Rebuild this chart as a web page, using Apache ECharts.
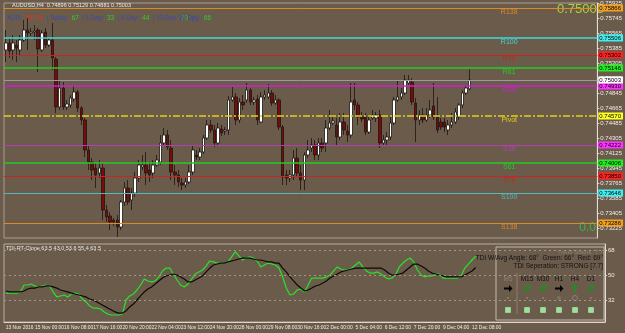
<!DOCTYPE html>
<html>
<head>
<meta charset="utf-8">
<script src="https://cdn.jsdelivr.net/npm/echarts@6/dist/echarts.min.js"></script>
<style>
  html, body { margin: 0; padding: 0; background: #6b5b4b; }
  #chart { width: 625px; height: 333px; }
</style>
</head>
<body>
<div id="chart"></div>
<script>
// AUDUSD H4, 13 Nov - 12 Dec 2016
const timeLabels = ['13 Nov 2016', '15 Nov 00:00', '16 Nov 08:00', '17 Nov 16:00', '20 Nov 20:00', '22 Nov 04:00',
  '23 Nov 12:00', '24 Nov 20:00', '28 Nov 00:00', '29 Nov 08:00', '30 Nov 16:00', '2 Dec 00:00', '5 Dec 04:00',
  '6 Dec 12:00', '7 Dec 20:00', '9 Dec 04:00', '12 Dec 08:00']

const opens = [.75362, .75446, .75362, .75422, .75362, .75482, .75602, .75566, .75578, .75602,
  .75362, .75578, .75422, .75482, .75254, .74678, .74906, .74678, .74702, .74774,
  .74858, .74666, .74522, .74162, .74018, .73946, .73886, .73946, .73442, .7337,
  .73322, .73322, .73238, .73538, .73706, .73562, .73646, .73826, .73958, .73982,
  .73922, .73886, .73982, .74018, .74246, .74342, .74186, .73898, .73862, .73766,
  .73742, .73778, .73898, .74102, .74078, .74138, .74306, .74462, .74402, .74246,
  .74414, .7439, .74402, .74762, .74798, .74522, .74738, .74762, .74882, .74738,
  .74774, .74498, .74798, .74798, .74846, .74726, .74762, .74438, .73862, .73826,
  .73862, .74066, .73886, .73802, .74102, .74186, .74222, .74102, .74246, .74246,
  .74426, .74486, .74462, .74318, .74498, .7439, .74342, .74762, .74702, .74558,
  .74558, .74378, .74546, .74546, .74582, .74246, .74282, .74318, .74486, .74762,
  .74798, .74846, .74966, .74978, .74726, .74522, .74582, .74522, .74582, .7469,
  .74558, .74498, .74498, .74402, .74462, .74498, .74558, .74702, .74846, .74896]
const closes = [.75446, .7535, .75446, .75386, .75482, .75602, .75566, .75578, .7559, .75374,
  .75566, .75422, .75482, .75266, .74678, .74906, .74678, .74714, .74786, .74858,
  .74666, .74522, .74162, .74018, .73922, .73862, .73946, .73442, .73358, .73298,
  .73298, .73238, .73538, .73706, .73538, .73646, .73826, .73982, .73982, .73886,
  .73862, .73982, .74042, .74246, .74342, .74198, .73898, .73862, .73778, .73742,
  .73778, .73898, .74162, .74078, .74138, .74306, .74462, .74402, .74246, .74426,
  .74366, .74402, .74762, .74798, .74522, .74738, .74702, .74882, .74738, .74762,
  .74522, .74798, .74822, .74846, .74726, .74762, .74438, .73838, .73826, .73862,
  .74066, .73886, .73802, .74102, .74162, .74222, .74102, .74246, .74186, .74426,
  .74486, .7451, .74318, .74498, .74402, .74342, .74738, .74702, .74558, .74534,
  .74378, .74522, .74582, .74582, .74246, .74282, .74318, .74486, .74762, .74798,
  .74846, .75002, .75002, .74738, .74522, .74582, .74522, .74582, .74642, .74558,
  .74402, .74438, .74438, .74462, .74498, .74618, .74702, .74846, .74906, .75003]
const lows = [.75218, .75266, .75242, .75218, .75302, .75458, .75362, .7553, .75482, .75098,
  .75338, .75386, .75398, .75122, .74606, .74642, .74642, .74642, .74666, .74738,
  .74618, .74462, .74078, .73922, .73802, .73706, .73826, .73322, .73298, .73202,
  .7325, .73118, .73202, .7349, .73502, .73442, .73598, .73778, .73922, .73742,
  .73778, .73826, .73958, .73982, .7421, .74162, .73802, .73742, .73718, .73682,
  .73706, .73754, .73862, .74042, .74042, .74114, .74282, .74366, .74198, .7421,
  .7433, .74342, .74342, .74738, .74462, .74486, .74642, .74726, .74702, .74702,
  .74462, .74486, .74762, .74774, .7469, .74702, .74402, .73742, .73742, .73778,
  .73802, .7385, .73682, .73682, .74066, .74138, .74042, .74042, .74138, .74138,
  .74402, .74462, .74222, .74282, .74342, .74258, .74306, .74642, .74462, .74498,
  .74342, .74354, .74522, .74498, .74186, .7421, .74222, .74282, .74462, .74738,
  .74762, .74822, .74942, .74702, .74258, .74462, .74486, .74498, .74546, .74522,
  .74366, .74402, .74378, .74342, .74426, .74474, .74522, .74666, .74822, .74881]
const highs = [.75602, .75506, .75542, .75482, .75542, .75722, .75746, .75626, .75662, .75626,
  .75602, .75626, .75506, .75686, .75278, .75002, .74978, .74762, .74822, .74942,
  .74882, .7469, .74546, .74222, .74066, .74006, .74042, .74006, .73502, .73418,
  .73346, .73382, .73562, .73778, .73802, .73706, .73898, .74042, .74102, .74138,
  .74018, .74042, .74102, .74342, .74426, .74402, .74282, .73982, .73922, .73826,
  .73826, .73982, .74222, .74162, .74186, .74342, .74522, .74522, .74462, .74486,
  .74462, .74438, .7481, .74918, .74846, .74786, .74822, .74966, .74906, .74798,
  .74822, .74858, .74882, .74954, .74882, .74822, .74786, .74462, .73922, .73922,
  .74162, .74186, .73982, .74138, .74282, .74306, .74282, .74306, .74306, .74522,
  .74642, .74582, .74546, .74606, .74606, .74462, .74966, .74966, .74738, .74618,
  .74606, .74582, .74642, .74618, .74642, .74342, .74378, .74582, .74798, .75002,
  .74906, .75062, .75062, .75026, .74786, .74642, .74666, .74666, .74762, .74966,
  .74798, .74546, .74546, .74522, .74606, .74666, .74726, .74882, .74942, .75129]

// TDI: green price line and black signal line
const tdiGreen = [37.0, 37.0, 37.0, 37.0, 37.8, 42.8, 42.8, 43.5, 42.1, 41.4,
  42.1, 42.8, 42.1, 37.8, 34.2, 34.9, 35.6, 34.2, 36.3, 37.0,
  36.3, 32.7, 30.6, 27.7, 26.2, 26.2, 25.5, 23.4, 21.9, 21.2,
  21.2, 21.2, 21.9, 32.0, 34.9, 36.3, 39.2, 42.8, 47.1, 45.7,
  45.0, 45.7, 48.6, 52.9, 55.0, 55.0, 50.7, 46.4, 42.8, 41.4,
  43.5, 47.1, 50.7, 52.2, 53.6, 56.5, 60.1, 59.4, 58.6, 58.6,
  58.6, 59.4, 63.0, 66.6, 63.7, 60.8, 62.2, 63.0, 62.2, 60.1,
  55.8, 57.2, 58.6, 57.9, 57.2, 55.0, 48.6, 40.6, 35.6, 36.3,
  39.2, 39.9, 37.8, 42.8, 47.8, 47.8, 47.8, 47.8, 48.6, 50.0,
  52.9, 55.8, 54.3, 53.6, 53.6, 55.0, 57.2, 59.4, 55.8, 52.9,
  51.4, 51.4, 52.2, 50.7, 48.6, 47.1, 47.8, 50.0, 55.8, 58.6,
  60.8, 62.2, 59.4, 53.6, 50.0, 48.6, 49.3, 49.3, 50.7, 50.7,
  47.8, 47.8, 47.8, 47.8, 47.8, 49.3, 55.0, 57.9, 60.8, 63.5]
const tdiBlack = [38.5, 37.8, 37.8, 37.8, 37.8, 38.5, 39.9, 40.6, 40.6, 41.4,
  41.4, 42.1, 42.1, 41.4, 40.6, 39.2, 38.5, 37.8, 37.0, 36.3,
  35.6, 34.9, 34.2, 32.7, 32.0, 30.6, 29.1, 27.7, 26.2, 24.8,
  23.4, 22.6, 22.6, 24.1, 27.0, 29.1, 32.0, 34.9, 37.8, 39.9,
  41.4, 43.5, 45.7, 47.8, 49.3, 50.0, 50.7, 50.0, 48.6, 47.1,
  45.0, 45.0, 46.4, 47.8, 49.3, 52.2, 55.0, 57.2, 57.9, 58.6,
  58.6, 59.4, 60.1, 60.8, 61.5, 62.2, 62.2, 62.2, 61.5, 60.8,
  60.8, 60.1, 59.4, 59.4, 58.6, 58.6, 55.0, 52.2, 48.6, 45.7,
  42.8, 40.6, 38.5, 39.2, 40.6, 42.1, 42.8, 44.2, 45.7, 47.8,
  49.3, 50.7, 52.2, 52.9, 53.6, 54.3, 55.0, 55.0, 55.0, 55.0,
  55.0, 55.0, 55.0, 55.0, 53.6, 51.4, 50.0, 50.0, 50.7, 51.4,
  53.6, 55.8, 57.9, 57.9, 56.5, 55.0, 52.9, 51.4, 50.7, 50.0,
  49.3, 48.6, 48.6, 48.6, 48.6, 48.6, 50.0, 51.4, 52.9, 55.4]
const tdiLevels = [68, 50, 32]

// pivot levels
const levelNames = ['R138', 'R100', 'R78', 'R61', 'R38', 'Pivot', 'S38', 'S61', 'S78', 'S100', 'S138']
const levelValues = [0.75866, 0.75506, 0.75302, 0.75146, 0.7493, 0.7457, 0.74222, 0.74006, 0.7385, 0.73646, 0.73286]
const currentPrice = 0.75003
const priceTicks = [0.73225, 0.73405, 0.73585, 0.73765, 0.73945, 0.74125, 0.74305, 0.74485, 0.74665,
  0.74845, 0.75025, 0.75205, 0.75385, 0.75565, 0.75745, 0.75925]

const slotCount = 165 // bars plus chart shift on the right
const categories = Array.from({ length: slotCount }, (_, i) => 'b' + i)
const candles = opens.map((o, i) => [o, closes[i], lows[i], highs[i]])

const lineColors = ['#d98a2c', '#3fd8d8', '#c8261e', '#22cc22', '#d21ed2', '#e3d11c', '#b53cb5', '#22cc22', '#c8261e', '#55b9b9', '#d98a2c']
const boxColors = ['#f2a024', '#44eeee', '#ff2222', '#22ee22', '#ff33ff', '#ffff22', '#ff33ff', '#22ee22', '#ff2222', '#44eeee', '#f2a024']
const lineWidths = [1, 1.5, 1, 1.5, 1.5, 1.5, 1, 1.5, 1, 1, 1]

const levelLines = levelValues.map((v, i) => ({
  yAxis: v,
  lineStyle: { color: lineColors[i], width: lineWidths[i], type: i === 5 ? [7, 2, 2, 2] : 'solid' },
  label: { backgroundColor: boxColors[i] }
}))
levelLines.push({
  yAxis: currentPrice,
  lineStyle: { color: '#9a9a9a', width: 1, type: 'solid' },
  label: { backgroundColor: '#ffffff' }
})

const adrLabel = '#3a4ca6'
const adrValue = '#33cc33'
const tfX = [508, 527, 543, 559, 575, 591]
const tfNames = ['M5', 'M15', 'M30', 'H1', 'H4', 'D1']
const tfAngles = [0, 45, 45, 0, 90, 45]
const arrowShape = [[-4, -1], [1, -1], [1, -3.5], [4.5, 0], [1, 3.5], [1, 1], [-4, 1]]

// arrow polygon turned counter-clockwise by deg, centred on (cx, cy)
function arrowPoints(cx, cy, deg) {
  const r = deg * Math.PI / 180
  return arrowShape.map(([x, y]) => [cx + x * Math.cos(r) + y * Math.sin(r), cy - x * Math.sin(r) + y * Math.cos(r)])
}

const chart = echarts.init(document.getElementById('chart'))
chart.setOption({
  backgroundColor: '#6b5b4b',
  animation: false,
  textStyle: { fontFamily: 'Liberation Sans' },
  grid: [
    { left: 4, right: 20, top: 3, height: 235, show: true, borderColor: '#a99e93', borderWidth: 1 },
    { left: 4, right: 20, top: 244, height: 78, show: true, borderColor: '#b8aea4', borderWidth: 1 }
  ],
  xAxis: [
    {
      type: 'category', gridIndex: 0, data: categories,
      axisLine: { show: false }, axisTick: { show: false }, axisLabel: { show: false }, splitLine: { show: false }
    },
    {
      type: 'category', gridIndex: 1, data: categories,
      axisLine: { lineStyle: { color: '#ddd6cf' } },
      axisTick: { interval: i => i % 8 === 0 && i / 8 < timeLabels.length, length: 2, alignWithLabel: true, lineStyle: { color: '#ddd6cf' } },
      axisLabel: {
        interval: i => i % 8 === 0 && i / 8 < timeLabels.length,
        formatter: (v, i) => timeLabels[i / 8] || '',
        align: 'left', fontSize: 4.9, color: '#f0ece8', margin: 3,
        showMinLabel: true, hideOverlap: false
      },
      splitLine: { show: false }
    }
  ],
  yAxis: [
    {
      type: 'value', gridIndex: 0, position: 'right', min: 0.73106, max: 0.75926, z: 0,
      axisLine: { show: true, lineStyle: { color: '#e2dcd6' } },
      axisTick: { show: true, length: 2, customValues: priceTicks, lineStyle: { color: '#e2dcd6' } },
      axisLabel: { customValues: priceTicks, formatter: v => v.toFixed(5), fontSize: 6, color: '#f0ece8', margin: 3 },
      splitLine: { show: false }
    },
    {
      type: 'value', gridIndex: 1, position: 'right', min: 16.16, max: 72.32, z: 0,
      axisLine: { show: true, lineStyle: { color: '#e2dcd6' } },
      axisTick: { show: true, length: 2, customValues: tdiLevels, lineStyle: { color: '#e2dcd6' } },
      axisLabel: { customValues: tdiLevels, fontSize: 6, color: '#f0ece8', margin: 3 },
      splitLine: { show: false }
    }
  ],
  series: [
    {
      name: 'AUDUSD', type: 'candlestick', xAxisIndex: 0, yAxisIndex: 0, data: candles,
      barWidth: 3,
      itemStyle: { color: '#ffffff', color0: '#7d0a0a', borderColor: '#1c1612', borderColor0: '#1c1612', borderWidth: 0.8 },
      markLine: {
        symbol: 'none', silent: true, z: 5, precision: 5,
        label: {
          show: true, position: 'end', distance: 1, color: '#000', fontSize: 6, padding: [1, 2, 0, 1],
          formatter: p => p.value.toFixed(5)
        },
        data: levelLines
      }
    },
    {
      name: 'levels', type: 'scatter', xAxisIndex: 0, yAxisIndex: 0, symbolSize: 0, silent: true, z: 6,
      itemStyle: { opacity: 1 },
      data: levelValues.map((v, i) => ({ value: [140, v], name: levelNames[i], label: { color: lineColors[i] } })),
      label: { show: true, position: 'bottom', distance: 1, fontSize: 7, opacity: 1, formatter: '{b}' }
    },
    {
      name: 'TDI green', type: 'line', xAxisIndex: 1, yAxisIndex: 1, data: tdiGreen,
      showSymbol: false, lineStyle: { color: '#27e427', width: 1.2 },
      markLine: {
        symbol: 'none', silent: true, label: { show: false },
        lineStyle: { type: [2, 3], color: '#a3978b', width: 1 },
        data: tdiLevels.map(v => ({ yAxis: v }))
      }
    },
    {
      name: 'TDI signal', type: 'line', xAxisIndex: 1, yAxisIndex: 1, data: tdiBlack,
      showSymbol: false, lineStyle: { color: '#0a0a0a', width: 1.2 }
    }
  ],
  graphic: [
    { type: 'text', left: 12, top: 2, style: { text: 'AUDUSD,H4  0.74896 0.75129 0.74881 0.75003', fontSize: 5.5, fill: '#ebe7e3' } },
    {
      type: 'text', left: 7, top: 12,
      style: {
        text: '{b|ADR:} {r|93.7%} {b|| Today:} {g|67} {b|| 1 Day:} {g|33} {b|| 5 Day:} {g|44} {b|| 10 Day:} {g|70} {b||}',
        rich: {
          b: { fill: adrLabel, fontSize: 6.3 },
          r: { fill: '#e8302f', fontSize: 6.3 },
          g: { fill: adrValue, fontSize: 6.3 }
        }
      }
    },
    {
      type: 'text', left: 179, top: 12,
      style: { text: '{b|20 Day:} {g|66}', rich: { b: { fill: adrLabel, fontSize: 6.3 }, g: { fill: adrValue, fontSize: 6.3 } } }
    },
    { type: 'text', right: 21, top: 3, style: { text: '0.75003', fontSize: 13, fill: '#a6d43c' } },
    { type: 'text', right: 29, top: 222, style: { text: '0.0', fontSize: 12, fill: '#3fb83f' } },
    { type: 'text', left: 6, top: 245, style: { text: 'TDI-RT-Clone 63.5 43.0 53.6 55.4 63.5', fontSize: 5.5, fill: '#ebe7e3' } },
    { type: 'rect', shape: { x: 496, y: 247, width: 108, height: 73 }, style: { fill: 'none', stroke: '#c2b9b0', lineWidth: 1 } },
    { type: 'text', right: 22, top: 249, style: { text: 'Trend Status: 7.7', fontSize: 6, fill: '#8c7f72' } },
    { type: 'text', right: 22, top: 255, style: { text: 'TDI W/Avg Angle: 68°  Green: 66°  Red: 69°', fontSize: 6.5, fill: '#111' } },
    { type: 'text', right: 22, top: 263, style: { text: 'TDI Seperation: STRONG [7.7]', fontSize: 6.5, fill: '#111' } },
    { type: 'line', shape: { x1: 517, y1: 273, x2: 517, y2: 314 }, style: { stroke: '#8c7f72', lineWidth: 1 } },
    ...tfNames.map((t, i) => ({
      type: 'text', x: tfX[i], y: 276,
      style: { text: t, fontSize: 6.5, fill: i === 0 ? '#8c7f72' : '#111', align: 'center' }
    })),
    ...tfAngles.map((a, i) => ({
      type: 'polygon',
      shape: { points: arrowPoints(tfX[i], 288.5, a) },
      style: { fill: (i === 0 || i === 3) ? '#000' : '#1f8f1f' }
    })),
    ...tfX.map((x, i) => ({
      type: 'circle', shape: { cx: x, cy: 298, r: i === 3 ? 2 : (i === 4 ? 2.5 : 1) },
      style: i === 4 ? { fill: 'none', stroke: '#8c7f72', lineWidth: 1 } : { fill: i === 3 ? '#7d7166' : '#8c7f72' }
    })),
    ...tfX.map(x => ({
      type: 'rect', shape: { x: x - 2.5, y: 307.5, width: 5, height: 5 },
      style: { fill: '#94e894', stroke: '#c8f0c8', lineWidth: 0.5 }
    }))
  ]
})
</script>
</body>
</html>
